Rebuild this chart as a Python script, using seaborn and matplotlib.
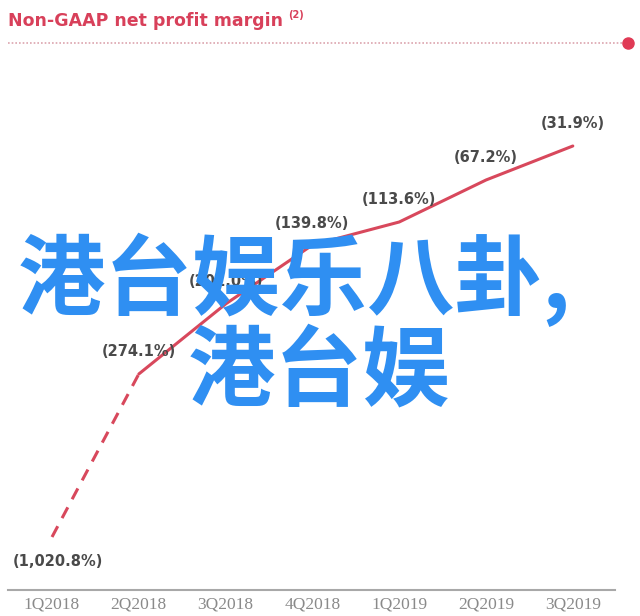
import matplotlib
matplotlib.use("Agg")
import matplotlib.pyplot as plt
import seaborn as sns
import pandas as pd

# ---- data ----
quarters = ["1Q2018", "2Q2018", "3Q2018", "4Q2018", "1Q2019", "2Q2019", "3Q2019"]
margin_labels = ["(1,020.8%)", "(274.1%)", "(201.0%)", "(139.8%)", "(113.6%)", "(67.2%)", "(31.9%)"]
# apparent plotted height of each point (chart is not drawn to a linear scale)
levels = [10.6, 43.2, 57.2, 69.0, 73.6, 82.0, 88.8]
title = "Non-GAAP net profit margin"
overlay_line1 = "港台娱乐八卦,"
overlay_line2 = "港台娱"

sns.set_theme(style="white")
plt.rcParams['font.family'] = ['DejaVu Sans']

df = pd.DataFrame({"q": range(len(quarters)), "level": levels, "label": margin_labels})

W, H = 640, 616
fig = plt.figure(figsize=(6.4, 6.16), dpi=100)
fig.patch.set_facecolor("white")

ax = fig.add_axes([8 / W, 26 / H, 607 / W, 500 / H])
red = "#d8485c"
sns.lineplot(data=df.iloc[0:2], x="q", y="level", ax=ax, color=red, lw=2.2,
             linestyle=(0, (4, 3)))
sns.lineplot(data=df.iloc[1:], x="q", y="level", ax=ax, color=red, lw=2.2)

ax.set_xlim(-0.507, 6.486)
ax.set_ylim(0, 100)
ax.set_xticks(range(len(quarters)))
ax.set_xticklabels(quarters, family="Liberation Serif", fontsize=12.5, color="#8a8a8a")
ax.set_yticks([])
ax.set_xlabel("")
ax.set_ylabel("")
for s in ["top", "left", "right"]:
    ax.spines[s].set_visible(False)
ax.spines["bottom"].set_color("#a8a8a8")
ax.spines["bottom"].set_linewidth(1.5)
ax.tick_params(axis="x", length=0, pad=5)
ax.set_facecolor("none")

for i, row in df.iterrows():
    if i == 0:
        ax.annotate(row["label"], (row["q"], row["level"]), xytext=(6, -24),
                    textcoords="offset pixels", ha="center", va="center",
                    fontsize=10.5, fontweight="bold", color="#4a4a4a")
    else:
        ax.annotate(row["label"], (row["q"], row["level"]), xytext=(0, 22),
                    textcoords="offset pixels", ha="center", va="center",
                    fontsize=10.5, fontweight="bold", color="#4a4a4a")

# title and dotted rule
fig.text(8 / W, 1 - 21 / H, title, ha="left", va="center", fontsize=12.5,
         fontweight="bold", color="#d8405a")
fig.text(288 / W, 1 - 15 / H, "(2)", ha="left", va="center", fontsize=7,
         fontweight="bold", color="#d8405a")
fig.add_artist(plt.Line2D([8 / W, 624 / W], [1 - 43 / H, 1 - 43 / H], color="#dca4ae",
                          lw=1.2, linestyle=(0, (1, 1.2))))
fig.add_artist(plt.Line2D([628 / W], [1 - 43 / H], marker="o", markersize=8,
                          color="#e03a55", lw=0))

# overlay text
blue = "#2f8ff2"
fig.text(18 / W, 1 - 280 / H, overlay_line1, ha="left", va="center", fontsize=63,
         color=blue, family=["Noto Sans CJK SC", "DejaVu Sans"], fontweight="bold")
fig.text(188 / W, 1 - 373 / H, overlay_line2, ha="left", va="center", fontsize=63,
         color=blue, family=["Noto Sans CJK SC", "DejaVu Sans"], fontweight="bold")

fig.savefig("out.png", dpi=100, facecolor="white")
